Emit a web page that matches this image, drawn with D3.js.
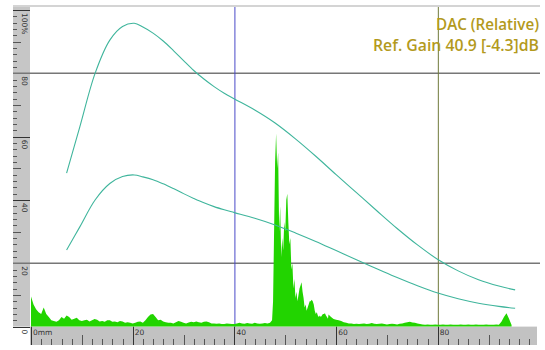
<!DOCTYPE html>
<html>
<head>
<meta charset="utf-8">
<script src="https://cdn.jsdelivr.net/npm/d3@7"></script>
<style>
  body { margin: 0; background: #fff; }
  svg { display: block; }
</style>
</head>
<body>
<script>
// DAC reference curve (mm, %)
const dacMm  = [7.0, 9.6, 12.6, 15.5, 18.0, 20.3, 22, 24, 26, 28, 30, 32, 34, 36, 38, 40, 44, 48, 52, 56, 60, 64, 68, 72, 76, 80, 84, 88, 92, 95.2];
const dacTop = [48.5, 63.1, 80.0, 90.5, 94.8, 95.8, 94.6, 92.7, 90.2, 87.2, 84.0, 80.9, 78.2, 75.8, 73.7, 71.9, 68.4, 64.3, 59.3, 53.8, 48.0, 42.3, 36.6, 31.0, 25.8, 21.2, 17.6, 14.8, 12.8, 11.6];
const dacLow = [24.2, 31.5, 40.0, 45.2, 47.4, 47.9, 47.3, 46.4, 45.1, 43.6, 42.0, 40.5, 39.1, 37.9, 36.9, 36.0, 34.2, 32.1, 29.6, 26.9, 24.0, 21.1, 18.3, 15.5, 12.9, 10.6, 8.8, 7.4, 6.4, 5.8];

// A-scan amplitude, every 0.5 mm from 0 to 47 mm
const noiseStart = [9.5, 7, 5.5, 4.5, 4, 6, 4, 3, 2, 1.8, 1.5, 2, 3, 2.5, 3.5, 3, 2.2, 2.5, 2.8, 2,
  1.8, 2, 2.2, 1.6, 2, 2.4, 2.2, 1.6, 1.8, 1.5, 2, 2, 1.5, 1.6, 1.4, 1.8, 1.6, 1.2, 1.4, 1.2,
  1.0, 1.2, 1.5, 1.6, 1.2, 2, 3, 3.8, 4, 3, 2, 2.2, 1.6, 1.4, 1.2, 1.2, 1.0, 1.4, 1.8, 1.5,
  1.2, 1.0, 1.3, 1.5, 1.4, 1.6, 1.4, 1.2, 1.5, 1.6, 1.4, 1.0, 1.0, 0.9, 1.0, 0.8, 0.8, 1.0, 0.9, 0.8,
  0.8, 1.0, 1.2, 1.0, 0.9, 1.1, 1.0, 0.9, 1.2, 1.0, 0.9, 1.0, 1.1, 1.0, 1.2];
// echo, every 0.2 mm from 47.4 mm
const echo = [2, 8, 30, 52, 61, 50, 55, 30, 38, 22, 28, 24, 33, 30, 40, 42, 33, 26, 28, 18,
  20, 12, 15, 9, 11, 8, 10, 12, 13, 14, 11, 9, 6, 7, 5, 6, 7, 8, 8, 8.5,
  8, 7, 5, 4, 4.5, 3.5, 3, 3.5, 3, 3.5, 4, 4, 4.2, 3.5, 3, 2.5];
// tail, every 0.5 mm from 58.5 mm
const noiseEnd = [3.8, 3, 2.4, 2.2, 2.0, 1.8, 1.4, 1.2, 1.0, 1.0, 0.8, 0.9, 0.8, 0.9, 1.0, 0.8, 0.9, 1.1, 0.9, 0.8,
  0.9, 1.0, 0.8, 0.7, 0.8, 0.9, 0.8, 0.7, 0.9, 1.0, 1.2, 1.4, 1.5, 1.3, 1.2, 1.0, 0.8, 0.7, 0.6, 0.7,
  0.6, 0.6, 0.7, 0.6, 0.6, 0.7, 0.6, 0.6, 0.7, 0.6, 0.6, 0.6, 0.7, 0.6, 0.6, 0.7, 0.6, 0.6, 0.7, 0.6,
  0.6, 0.6, 0.7, 0.6, 0.6, 0.6, 0.7, 0.6, 1.5, 3, 4.2, 2.5, 0.5];

const yLabels = ['0', '20', '40', '60', '80', '100%'];
const xLabels = ['0mm', '20', '40', '60', '80'];
const titleLines = ['DAC (Relative)', 'Ref. Gain 40.9 [-4.3]dB'];

const W = 545, H = 350;
const svg = d3.select('body').append('svg')
    .attr('width', W)
    .attr('height', H);

const x = d3.scaleLinear().domain([0, 99.5]).range([31, 537]);
const y = d3.scaleLinear().domain([0, 100]).range([326.6, 10]);

// build a-scan points
const ascan = [];
noiseStart.forEach((v, i) => ascan.push([i * 0.5, v]));
echo.forEach((v, i) => ascan.push([47.4 + i * 0.2, v]));
noiseEnd.forEach((v, i) => ascan.push([58.5 + i * 0.5, v]));

// top border
svg.append('line')
    .attr('x1', 13).attr('x2', 540)
    .attr('y1', 6).attr('y2', 6)
    .attr('stroke', '#d4d4d4').attr('stroke-width', 2);

// rulers
svg.append('rect')
    .attr('x', 13).attr('y', 7)
    .attr('width', 17).attr('height', y(0) - 7)
    .attr('fill', '#c6c6c6');
svg.append('rect')
    .attr('x', 30).attr('y', y(0))
    .attr('width', 537 - 30).attr('height', 345 - y(0))
    .attr('fill', '#c2c2c2');

// left ruler ticks
const yTicks = d3.range(0, 101, 2);
svg.append('g').selectAll('line')
    .data(yTicks)
    .enter().append('line')
    .attr('x1', 13)
    .attr('x2', d => d % 20 === 0 ? 30 : (d % 10 === 0 ? 21 : 17))
    .attr('y1', d => Math.round(y(d)) + 0.5)
    .attr('y2', d => Math.round(y(d)) + 0.5)
    .attr('stroke', d => d % 20 === 0 ? '#333' : '#555')
    .attr('stroke-width', 1);

svg.append('g').selectAll('text')
    .data(yLabels)
    .enter().append('text')
    .attr('transform', (d, i) => 'translate(22,' + (y(i * 20) + 3) + ') rotate(90)')
    .attr('font-family', 'DejaVu Sans, sans-serif')
    .attr('font-size', 7.5)
    .attr('fill', '#333')
    .text(d => d);

// bottom ruler ticks
const xTicks = d3.range(0, 99, 2);
svg.append('g').selectAll('line')
    .data(xTicks)
    .enter().append('line')
    .attr('x1', d => Math.round(x(d)) + 0.5)
    .attr('x2', d => Math.round(x(d)) + 0.5)
    .attr('y1', d => d % 20 === 0 ? y(0) : (d % 10 === 0 ? 335 : 339))
    .attr('y2', 345)
    .attr('stroke', d => d % 20 === 0 ? '#333' : '#555')
    .attr('stroke-width', 1);

svg.append('g').selectAll('text')
    .data(xLabels)
    .enter().append('text')
    .attr('x', (d, i) => x(i * 20) + 2)
    .attr('y', 335)
    .attr('font-family', 'DejaVu Sans, sans-serif')
    .attr('font-size', 7.5)
    .attr('fill', '#333')
    .text(d => d);

// grid lines
svg.append('g').selectAll('line')
    .data([20, 80])
    .enter().append('line')
    .attr('x1', 13).attr('x2', 540)
    .attr('y1', d => y(d)).attr('y2', d => y(d))
    .attr('stroke', '#777').attr('stroke-width', 1.5);

svg.append('line')
    .attr('x1', x(40) + 0.5).attr('x2', x(40) + 0.5)
    .attr('y1', 7).attr('y2', y(0))
    .attr('stroke', '#4a4ac8').attr('stroke-width', 1);
svg.append('line')
    .attr('x1', x(80) + 0.5).attr('x2', x(80) + 0.5)
    .attr('y1', 7).attr('y2', y(0))
    .attr('stroke', '#6f7a3a').attr('stroke-width', 1);

// a-scan
const area = d3.area()
    .x(d => x(d[0]))
    .y0(y(0))
    .y1(d => y(d[1]));
svg.append('path')
    .datum(ascan)
    .attr('d', area)
    .attr('fill', '#22d400');

// DAC curves
const line = d3.line()
    .x(d => x(d[0]))
    .y(d => y(d[1]))
    .curve(d3.curveCatmullRom.alpha(0.5));
[dacTop, dacLow].forEach(vals => {
    svg.append('path')
        .datum(dacMm.map((m, i) => [m, vals[i]]))
        .attr('d', line)
        .attr('fill', 'none')
        .attr('stroke', '#3fb59c')
        .attr('stroke-width', 1.1);
});

// header text
svg.append('g').selectAll('text')
    .data(titleLines)
    .enter().append('text')
    .attr('x', 539)
    .attr('y', (d, i) => 30 + i * 21)
    .attr('text-anchor', 'end')
    .attr('font-family', 'Open Sans, sans-serif')
    .attr('font-size', 16)
    .attr('font-weight', 600)
    .attr('textLength', (d, i) => i === 0 ? 103 : 166)
    .attr('lengthAdjust', 'spacingAndGlyphs')
    .attr('fill', '#b39a1c')
    .text(d => d);
</script>
</body>
</html>
